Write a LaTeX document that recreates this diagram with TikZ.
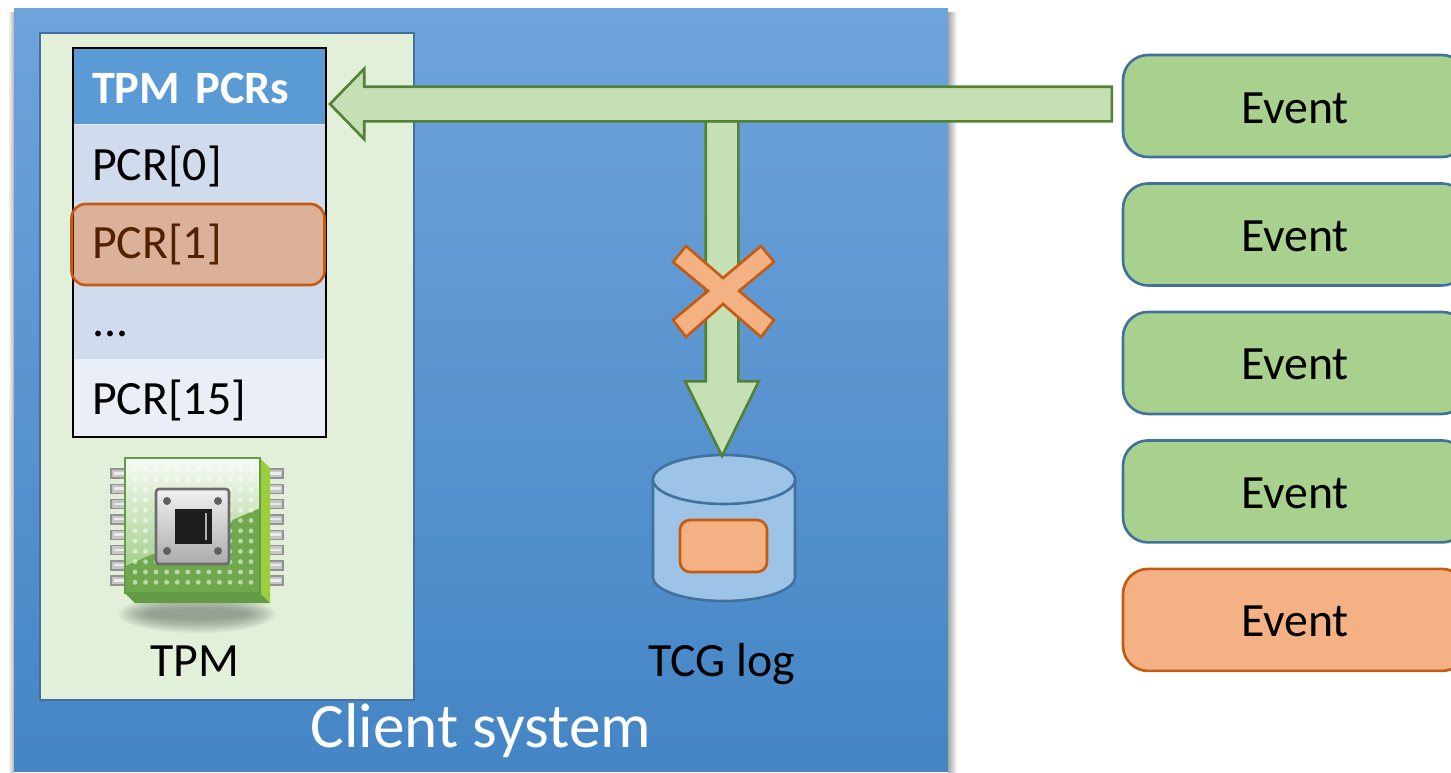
\documentclass[tikz,border=0pt]{standalone}
\usepackage{fontspec}
\setmainfont{Carlito}
\usetikzlibrary{shapes.arrows,fit}
\definecolor{panelblue}{HTML}{41719C}
\definecolor{clienttop}{RGB}{111,164,219}
\definecolor{clientmid}{RGB}{84,152,219}
\definecolor{clientlow}{RGB}{68,133,197}
\definecolor{tpmgreen}{RGB}{226,239,217}
\definecolor{headblue}{RGB}{91,155,213}
\definecolor{rowdark}{RGB}{208,220,238}
\definecolor{rowlight}{RGB}{233,238,247}
\definecolor{logblue}{RGB}{157,195,230}
\definecolor{evgreen}{HTML}{A9D18E}
\definecolor{evorange}{HTML}{F4B183}
\definecolor{edgeorange}{HTML}{C55A11}
\definecolor{arrowgreen}{HTML}{C5E0B4}
\definecolor{edgegreen}{HTML}{548235}
\definecolor{hilite}{RGB}{242,97,0}
\definecolor{chipbody}{RGB}{112,168,78}
\definecolor{chipedge}{RGB}{100,155,70}
\definecolor{chipside}{RGB}{156,205,60}
\definecolor{chipgloss}{RGB}{165,208,140}
\definecolor{chipcore}{RGB}{30,28,30}
\begin{document}
\begin{tikzpicture}[
    x=0.02cm,
    y=-0.02cm,
    textbig/.style={font=\fontsize{27.2}{30}\selectfont},
    panel/.style={
        rectangle,
        inner sep=0pt,
        outer sep=0pt
    },
    pcrrow/.style={
        panel,
        fill=#1,
        minimum width=5.06cm,
        minimum height=1.56cm,
        text width=4.3cm,
        inner xsep=0.38cm,
        align=left,
        text height=0.83cm,
        text depth=0.15cm,
        textbig,
        node distance=1.56cm
    },
    eventbox/.style={
        rectangle,
        rounded corners=0.5cm,
        fill=evgreen,
        draw=panelblue,
        line width=1.5pt,
        minimum width=6.88cm,
        minimum height=2.04cm,
        text height=0.68cm,
        text depth=0cm,
        textbig,
        node distance=2.57cm
    },
    blockarrow/.style={
        single arrow,
        fill=arrowgreen,
        draw=edgegreen,
        line width=1.5pt,
        inner xsep=0pt,
        outer sep=0pt
    },
    biglabel/.style={
        textbig,
        text height=0.6cm,
        text depth=0.15cm
    },
    chippin/.style={
        fill=gray!45,
        draw=gray!85,
        line width=0.8pt
    },
    logshape/.style={
        fill=logblue,
        draw=panelblue,
        line width=1.5pt
    }
]
\useasboundingbox (0,0) rectangle (1451,772);
\clip (0,0) rectangle (1451,772);

% Client system
\shade[left color=gray!70, right color=white] (948,12) rectangle (957,772);
\shade[left color=white, right color=gray!60] (8,12) rectangle (14,772);
\node[panel, shade, top color=clienttop, middle color=clientmid, bottom color=clientlow,
      minimum width=18.68cm, minimum height=15.28cm] (client) at (481,390) {};
\node[text=white, font=\fontsize{36}{40}\selectfont] (clientlabel) at (481,731) {Client system};

% TPM
\node[panel, fill=tpmgreen, draw=panelblue, line width=1.3pt,
      minimum width=7.48cm, minimum height=13.34cm] (tpm) at (227,366.5) {};
\node[biglabel] (tpmlabel) at (195,665) {TPM};

% Registri
\node[pcrrow=headblue, minimum height=1.52cm, text=white, font=\fontsize{26.4}{30}\selectfont\bfseries] (pcrhead) at (199.5,86) {TPM PCRs};
\node[pcrrow=rowdark, below of=pcrhead] (pcr0) {PCR[0]};
\node[pcrrow=rowdark, below of=pcr0] (pcr1) {PCR[1]};
\node[pcrrow=rowdark, below of=pcr1] (pcrdots) {...};
\node[pcrrow=rowlight, below of=pcrdots] (pcr15) {PCR[15]};
\node[draw=black, line width=1.5pt, inner sep=0pt, outer sep=0pt, fit=(pcrhead)(pcr15)] (pcrtable) {};
\node[rectangle, rounded corners=0.28cm, fill=hilite, fill opacity=0.35, draw=edgeorange, draw opacity=1,
      line width=1.5pt, minimum width=5.06cm, minimum height=1.62cm] (pcrmark) at (198,244.5) {};

% Chip
\foreach \i in {0,...,8}
    \fill[black!55!tpmgreen, opacity=0.09] (197,614) ellipse ({78-3.5*\i} and {19-1.7*\i});
\foreach \i in {0,...,7} {
    \draw[chippin] (111,{469+15.3*\i}) rectangle (126,{478+15.3*\i});
    \draw[chippin] (263,{469+15.3*\i}) rectangle (283,{478+15.3*\i});
    \fill[white!85!gray] (114,{472+15.3*\i}) rectangle (124,{474.5+15.3*\i});
    \fill[white!85!gray] (265,{472+15.3*\i}) rectangle (281,{474.5+15.3*\i});
}
\fill[chipside] (260,458) -- (270,468) -- (270,603) -- (260,593) -- cycle;
\fill[chipedge] (125,593) -- (260,593) -- (270,603) -- (135,603) -- cycle;
\fill[chipbody] (125,458) rectangle (260,593);
\shade[top color=white!92!chipgloss, bottom color=chipgloss]
    (125,458) -- (260,458) -- (260,508) -- (125,566) -- cycle;
\draw[chipedge, line width=1.2pt] (125,458) rectangle (260,593);
\foreach \i in {0,...,11}
    \foreach \j in {0,...,11}
        \fill[white, opacity=0.55] ({135+10.55*\i},{469+10.3*\j}) circle (2.4);
\shade[top color=gray!12, bottom color=gray!65, draw=gray!85!black, line width=1.5pt, rounded corners=0.06cm]
    (156,489) rectangle (229,564);
\fill[chipcore] (175,509) rectangle (212,544);
\fill[gray!60] (204.5,513) rectangle (207,540);
\foreach \cx/\cy in {167/501, 218/501, 167/551, 218/551}
    \fill[gray!75!black] (\cx,\cy) circle (4);

% Log
\draw[logshape] (653,479.5) -- (653,577) .. controls (653,590.5) and (685,601) .. (724,601)
    .. controls (763,601) and (795,590.5) .. (795,577) -- (795,479.5) -- cycle;
\draw[logshape] (724,479.5) ellipse (71 and 24.5);
\coordinate (tcglog) at (722,456);
\node[rectangle, rounded corners=0.2cm, fill=evorange, draw=edgeorange, line width=1.5pt,
      minimum width=1.74cm, minimum height=1.04cm] (logentry) at (723.5,546) {};
\node[biglabel] (loglabel) at (722,665) {TCG log};

% Eventi
\node[eventbox] (event1) at (1295,106) {Event};
\node[eventbox, below of=event1] (event2) {Event};
\node[eventbox, below of=event2] (event3) {Event};
\node[eventbox, below of=event3] (event4) {Event};
\node[eventbox, below of=event4, fill=evorange, draw=edgeorange] (event5) {Event};

% Frecce
\node[blockarrow, rotate=-90, anchor=tip, inner ysep=0.3cm, minimum height=6.7cm, minimum width=1.42cm,
      single arrow head extend=0.41cm, single arrow tip angle=52.5] (logarrow) at (tcglog) {};
\node[blockarrow, rotate=180, anchor=tip, inner ysep=0.32cm, minimum height=15.64cm, minimum width=1.36cm,
      single arrow head extend=0.36cm, single arrow tip angle=91.7] (extendarrow) at (330,104) {};

% Croce
\draw[fill=evorange, draw=edgeorange, line width=1.5pt]
    (686,246) -- (723,278) -- (761,246) -- (774,262) -- (739,291) -- (774,320) -- (761,337)
    -- (723,304) -- (686,337) -- (673,320) -- (708,291) -- (673,262) -- cycle;

\end{tikzpicture}
\end{document}
